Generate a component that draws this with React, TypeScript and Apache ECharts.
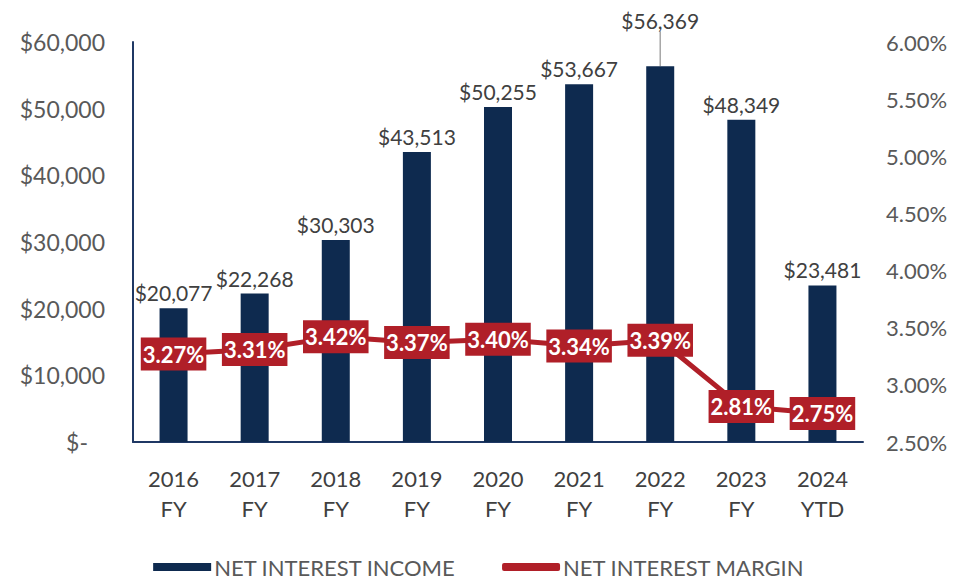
import React, { useEffect, useRef } from "react";
import * as echarts from "echarts";

const categories = ["2016\nFY", "2017\nFY", "2018\nFY", "2019\nFY", "2020\nFY", "2021\nFY", "2022\nFY", "2023\nFY", "2024\nYTD"];
const netInterestIncome = [20077, 22268, 30303, 43513, 50255, 53667, 56369, 48349, 23481];
const netInterestMargin = [3.27, 3.31, 3.42, 3.37, 3.40, 3.34, 3.39, 2.81, 2.75];

const FONT = "Lato, 'Noto Sans', sans-serif";
const NAVY = "#0E2A4F";
const RED = "#B01F28";

export default function App() {
  const ref = useRef<HTMLDivElement>(null);
  useEffect(() => {
    if (!ref.current) return;
    const chart = echarts.init(ref.current, null, { renderer: "svg" });
    chart.setOption({
      animation: false,
      textStyle: { fontFamily: FONT },
      grid: { left: 133, right: 95, top: 42, bottom: 137 },
      legend: {
        top: 555,
        left: "center",
        padding: 0,
        itemWidth: 58,
        itemHeight: 8,
        itemGap: 46,
        textStyle: { fontSize: 22, lineHeight: 24, color: "#595959", fontFamily: FONT, padding: [0, 0, 0, -2] },
        data: [
          { name: "NET INTEREST INCOME", icon: "rect" },
          { name: "NET INTEREST MARGIN", icon: "roundRect" },
        ],
      },
      xAxis: {
        type: "category",
        data: categories,
        axisLine: { show: true, lineStyle: { color: "#1F3864", width: 2 } },
        axisTick: { show: false },
        axisLabel: { fontSize: 22, color: "#404040", lineHeight: 30, margin: 21, fontFamily: FONT },
      },
      yAxis: [
        {
          type: "value",
          min: 0,
          max: 60000,
          interval: 10000,
          splitLine: { show: false },
          axisTick: { show: false },
          axisLine: { show: true, lineStyle: { color: "#1F3864", width: 2 } },
          axisLabel: {
            fontSize: 23,
            color: "#595959",
            margin: 28,
            fontFamily: FONT,
            formatter: (v: number) => (v === 0 ? "{z|$-}" : "$" + v.toLocaleString("en-US")),
            rich: { z: { fontSize: 23, color: "#595959", padding: [0, 17, 0, 0], fontFamily: FONT } },
          },
        },
        {
          type: "value",
          min: 2.5,
          max: 6.0,
          interval: 0.5,
          splitLine: { show: false },
          axisTick: { show: false },
          axisLine: { show: false },
          axisLabel: {
            fontSize: 22,
            color: "#595959",
            margin: 23,
            fontFamily: FONT,
            formatter: (v: number) => v.toFixed(2) + "%",
          },
        },
      ],
      series: [
        {
          name: "NET INTEREST INCOME",
          type: "bar",
          yAxisIndex: 0,
          barWidth: 28,
          itemStyle: { color: NAVY },
          data: netInterestIncome.map((v, i) =>
            i === 6
              ? { value: v, labelLine: { show: true, lineStyle: { color: "#A6A6A6", width: 1.5 } } }
              : v
          ),
          label: {
            show: true,
            position: "top",
            distance: 5,
            fontSize: 21,
            color: "#404040",
            fontFamily: FONT,
            formatter: (p: any) => "$" + Number(p.value).toLocaleString("en-US"),
          },
          labelLine: { show: false },
          labelLayout: (p: any) => (p.dataIndex === 6 ? { dy: -30 } : {}),
        },
        {
          name: "NET INTEREST MARGIN",
          type: "line",
          yAxisIndex: 1,
          data: netInterestMargin,
          symbol: "circle",
          symbolSize: 2,
          itemStyle: { color: RED },
          lineStyle: { color: RED, width: 5 },
          z: 5,
          label: {
            show: true,
            position: "inside",
            backgroundColor: RED,
            color: "#FFFFFF",
            fontWeight: "bold",
            fontSize: 22,
            fontFamily: FONT,
            padding: [6, 2, 5, 2],
            formatter: (p: any) => Number(p.value).toFixed(2) + "%",
          },
        },
      ],
    });
    return () => chart.dispose();
  }, []);
  return <div ref={ref} style={{ position: "absolute", left: 0, top: 0, width: 958, height: 579 }} />;
}
